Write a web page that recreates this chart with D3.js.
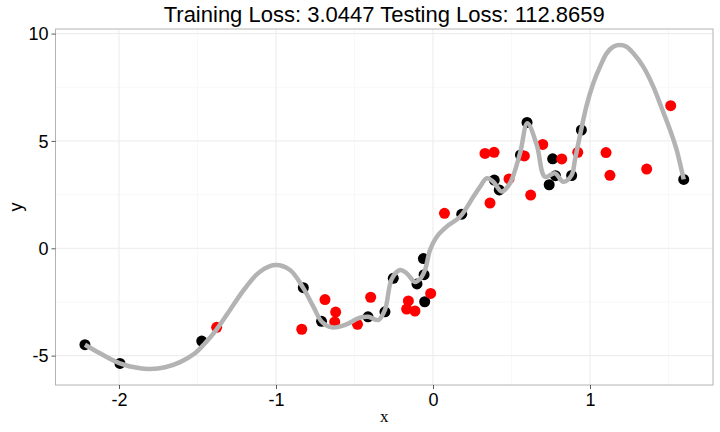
<!DOCTYPE html>
<html>
<head>
<meta charset="utf-8">
<script src="https://cdn.jsdelivr.net/npm/d3@7"></script>
<style>
  html, body { margin: 0; padding: 0; background: #fff; }
  svg { display: block; }
</style>
</head>
<body>
<svg id="chart" width="720" height="432"></svg>
<script>
// ---- Data ----
const titleText = "Training Loss: 3.0447 Testing Loss: 112.8659";

const trainX = [-2.217, -1.994, -1.473, -0.826, -0.710, -0.414, -0.306, -0.253, -0.102, -0.057, -0.061, -0.053,
                0.183, 0.390, 0.422, 0.557, 0.599, 0.762, 0.740, 0.780, 0.883, 0.945, 1.597];
const trainY = [-4.49, -5.36, -4.32, -1.835, -3.40, -3.19, -2.96, -1.40, -1.66, -1.23, -0.48, -2.49,
                1.59, 3.18, 2.72, 4.35, 5.86, 4.17, 2.96, 3.38, 3.39, 5.51, 3.21];

const testX = [-1.378, -0.836, -0.688, -0.620, -0.626, -0.481, -0.397, -0.157, -0.168, -0.115, -0.015,
               0.073, 0.363, 0.331, 0.389, 0.484, 0.582, 0.622, 0.699, 0.820, 0.922, 1.102, 1.127, 1.361, 1.514];
const testY = [-3.68, -3.77, -2.39, -2.97, -3.43, -3.54, -2.28, -2.45, -2.83, -2.92, -2.10,
               1.63, 2.11, 4.42, 4.47, 3.23, 4.30, 2.48, 4.84, 4.16, 4.47, 4.46, 3.40, 3.69, 6.64];

const fitX = [-2.217, -2.121, -1.994, -1.866, -1.803, -1.707, -1.611, -1.516, -1.452, -1.389, -1.293, -1.197,
              -1.102, -1.006, -0.911, -0.828, -0.762, -0.709, -0.645, -0.561, -0.465, -0.412, -0.348, -0.306,
              -0.263, -0.210, -0.168, -0.115, -0.083, -0.051, -0.019, 0.024, 0.087, 0.172, 0.257, 0.299, 0.342,
              0.384, 0.438, 0.490, 0.554, 0.601, 0.661, 0.713, 0.777, 0.830, 0.883, 0.904, 0.941, 0.979, 1.021,
              1.064, 1.106, 1.148, 1.191, 1.233, 1.276, 1.339, 1.403, 1.457, 1.510, 1.552, 1.597];
const fitY = [-4.49, -4.89, -5.36, -5.59, -5.62, -5.54, -5.30, -4.89, -4.42, -3.88, -2.87, -1.86,
              -1.09, -0.78, -1.01, -1.83, -2.72, -3.42, -3.68, -3.57, -3.23, -3.19, -3.34, -2.87,
              -1.43, -1.01, -1.16, -1.57, -1.43, -1.01, -0.08, 0.54, 1.01, 1.47, 2.40, 2.86, 3.26,
              3.10, 2.64, 3.03, 4.42, 5.82, 4.81, 3.33, 3.49, 3.10, 3.41, 4.11, 5.43, 6.67, 7.69,
              8.46, 9.08, 9.39, 9.47, 9.39, 9.08, 8.46, 7.53, 6.52, 5.51, 4.58, 3.21];

const xTicks = [-2, -1, 0, 1];
const xMinor = [-1.5, -0.5, 0.5, 1.5];
const yTicks = [-5, 0, 5, 10];
const yMinor = [-2.5, 2.5, 7.5];
const xLabel = "x";
const yLabel = "y";

// ---- Layout ----
const svg = d3.select("#chart");
const L = 55.5, R = 713, T = 29, B = 385;
const x = d3.scaleLinear().domain([-2.4045, 1.7834]).range([L, R]);
const y = d3.scaleLinear().domain([-6.367, 10.214]).range([B, T]);

// grid
const g = svg.append("g");
g.selectAll(".vminor").data(xMinor).join("line")
  .attr("x1", d => x(d)).attr("x2", d => x(d)).attr("y1", T).attr("y2", B)
  .attr("stroke", "#F5F5F5").attr("stroke-width", 0.7);
g.selectAll(".hminor").data(yMinor).join("line")
  .attr("y1", d => y(d)).attr("y2", d => y(d)).attr("x1", L).attr("x2", R)
  .attr("stroke", "#F5F5F5").attr("stroke-width", 0.7);
g.selectAll(".vmajor").data(xTicks).join("line")
  .attr("x1", d => x(d)).attr("x2", d => x(d)).attr("y1", T).attr("y2", B)
  .attr("stroke", "#EBEBEB").attr("stroke-width", 1);
g.selectAll(".hmajor").data(yTicks).join("line")
  .attr("y1", d => y(d)).attr("y2", d => y(d)).attr("x1", L).attr("x2", R)
  .attr("stroke", "#EBEBEB").attr("stroke-width", 1);

// points
const train = trainX.map((d, i) => ({x: d, y: trainY[i]}));
const test = testX.map((d, i) => ({x: d, y: testY[i]}));
const fit = fitX.map((d, i) => ({x: d, y: fitY[i]}));

svg.append("g").selectAll("circle").data(train).join("circle")
  .attr("cx", d => x(d.x)).attr("cy", d => y(d.y)).attr("r", 5.5).attr("fill", "#000");
svg.append("g").selectAll("circle").data(test).join("circle")
  .attr("cx", d => x(d.x)).attr("cy", d => y(d.y)).attr("r", 5.5).attr("fill", "#FF0000");

// fitted curve
svg.append("path").datum(fit)
  .attr("d", d3.line().x(d => x(d.x)).y(d => y(d.y)).curve(d3.curveCatmullRom.alpha(0.5)))
  .attr("fill", "none").attr("stroke", "#B3B3B3").attr("stroke-width", 4.5)
  .attr("stroke-linejoin", "round").attr("stroke-linecap", "butt");

// panel border
svg.append("rect").attr("x", L).attr("y", T).attr("width", R - L).attr("height", B - T)
  .attr("fill", "none").attr("stroke", "#B3B3B3").attr("stroke-width", 1);

// axes
const fmt = d => String(d);
const xAxis = d3.axisBottom(x).tickValues(xTicks).tickSize(4).tickPadding(4).tickFormat(fmt);
const yAxis = d3.axisLeft(y).tickValues(yTicks).tickSize(4).tickPadding(3).tickFormat(fmt);

const gx = svg.append("g").attr("transform", `translate(0,${B})`).call(xAxis);
const gy = svg.append("g").attr("transform", `translate(${L},0)`).call(yAxis);
[gx, gy].forEach(a => {
  a.select(".domain").remove();
  a.selectAll(".tick line").attr("stroke", "#333").attr("stroke-width", 0.8);
  a.selectAll(".tick text").attr("fill", "#000")
    .style("font-family", "'Liberation Sans', Arial, Helvetica, sans-serif").style("font-size", "18px");
});
gx.selectAll(".tick text").attr("dy", "0.71em");
gy.selectAll(".tick text").attr("dy", "0.35em");

// title
svg.append("text").attr("x", (L + R) / 2).attr("y", 22).attr("text-anchor", "middle")
  .style("font-family", "'Liberation Sans', Arial, Helvetica, sans-serif").style("font-size", "22px")
  .attr("fill", "#000").text(titleText);

// axis titles
svg.append("text").attr("x", (L + R) / 2).attr("y", 422).attr("text-anchor", "middle")
  .style("font-family", "'Liberation Serif', 'Times New Roman', serif").style("font-size", "17px")
  .attr("fill", "#000").text(xLabel);
svg.append("text").attr("transform", `translate(22,${(T + B) / 2}) rotate(-90)`).attr("text-anchor", "middle")
  .style("font-family", "'Liberation Sans', Arial, Helvetica, sans-serif").style("font-size", "18px")
  .attr("fill", "#000").text(yLabel);
</script>
</body>
</html>
